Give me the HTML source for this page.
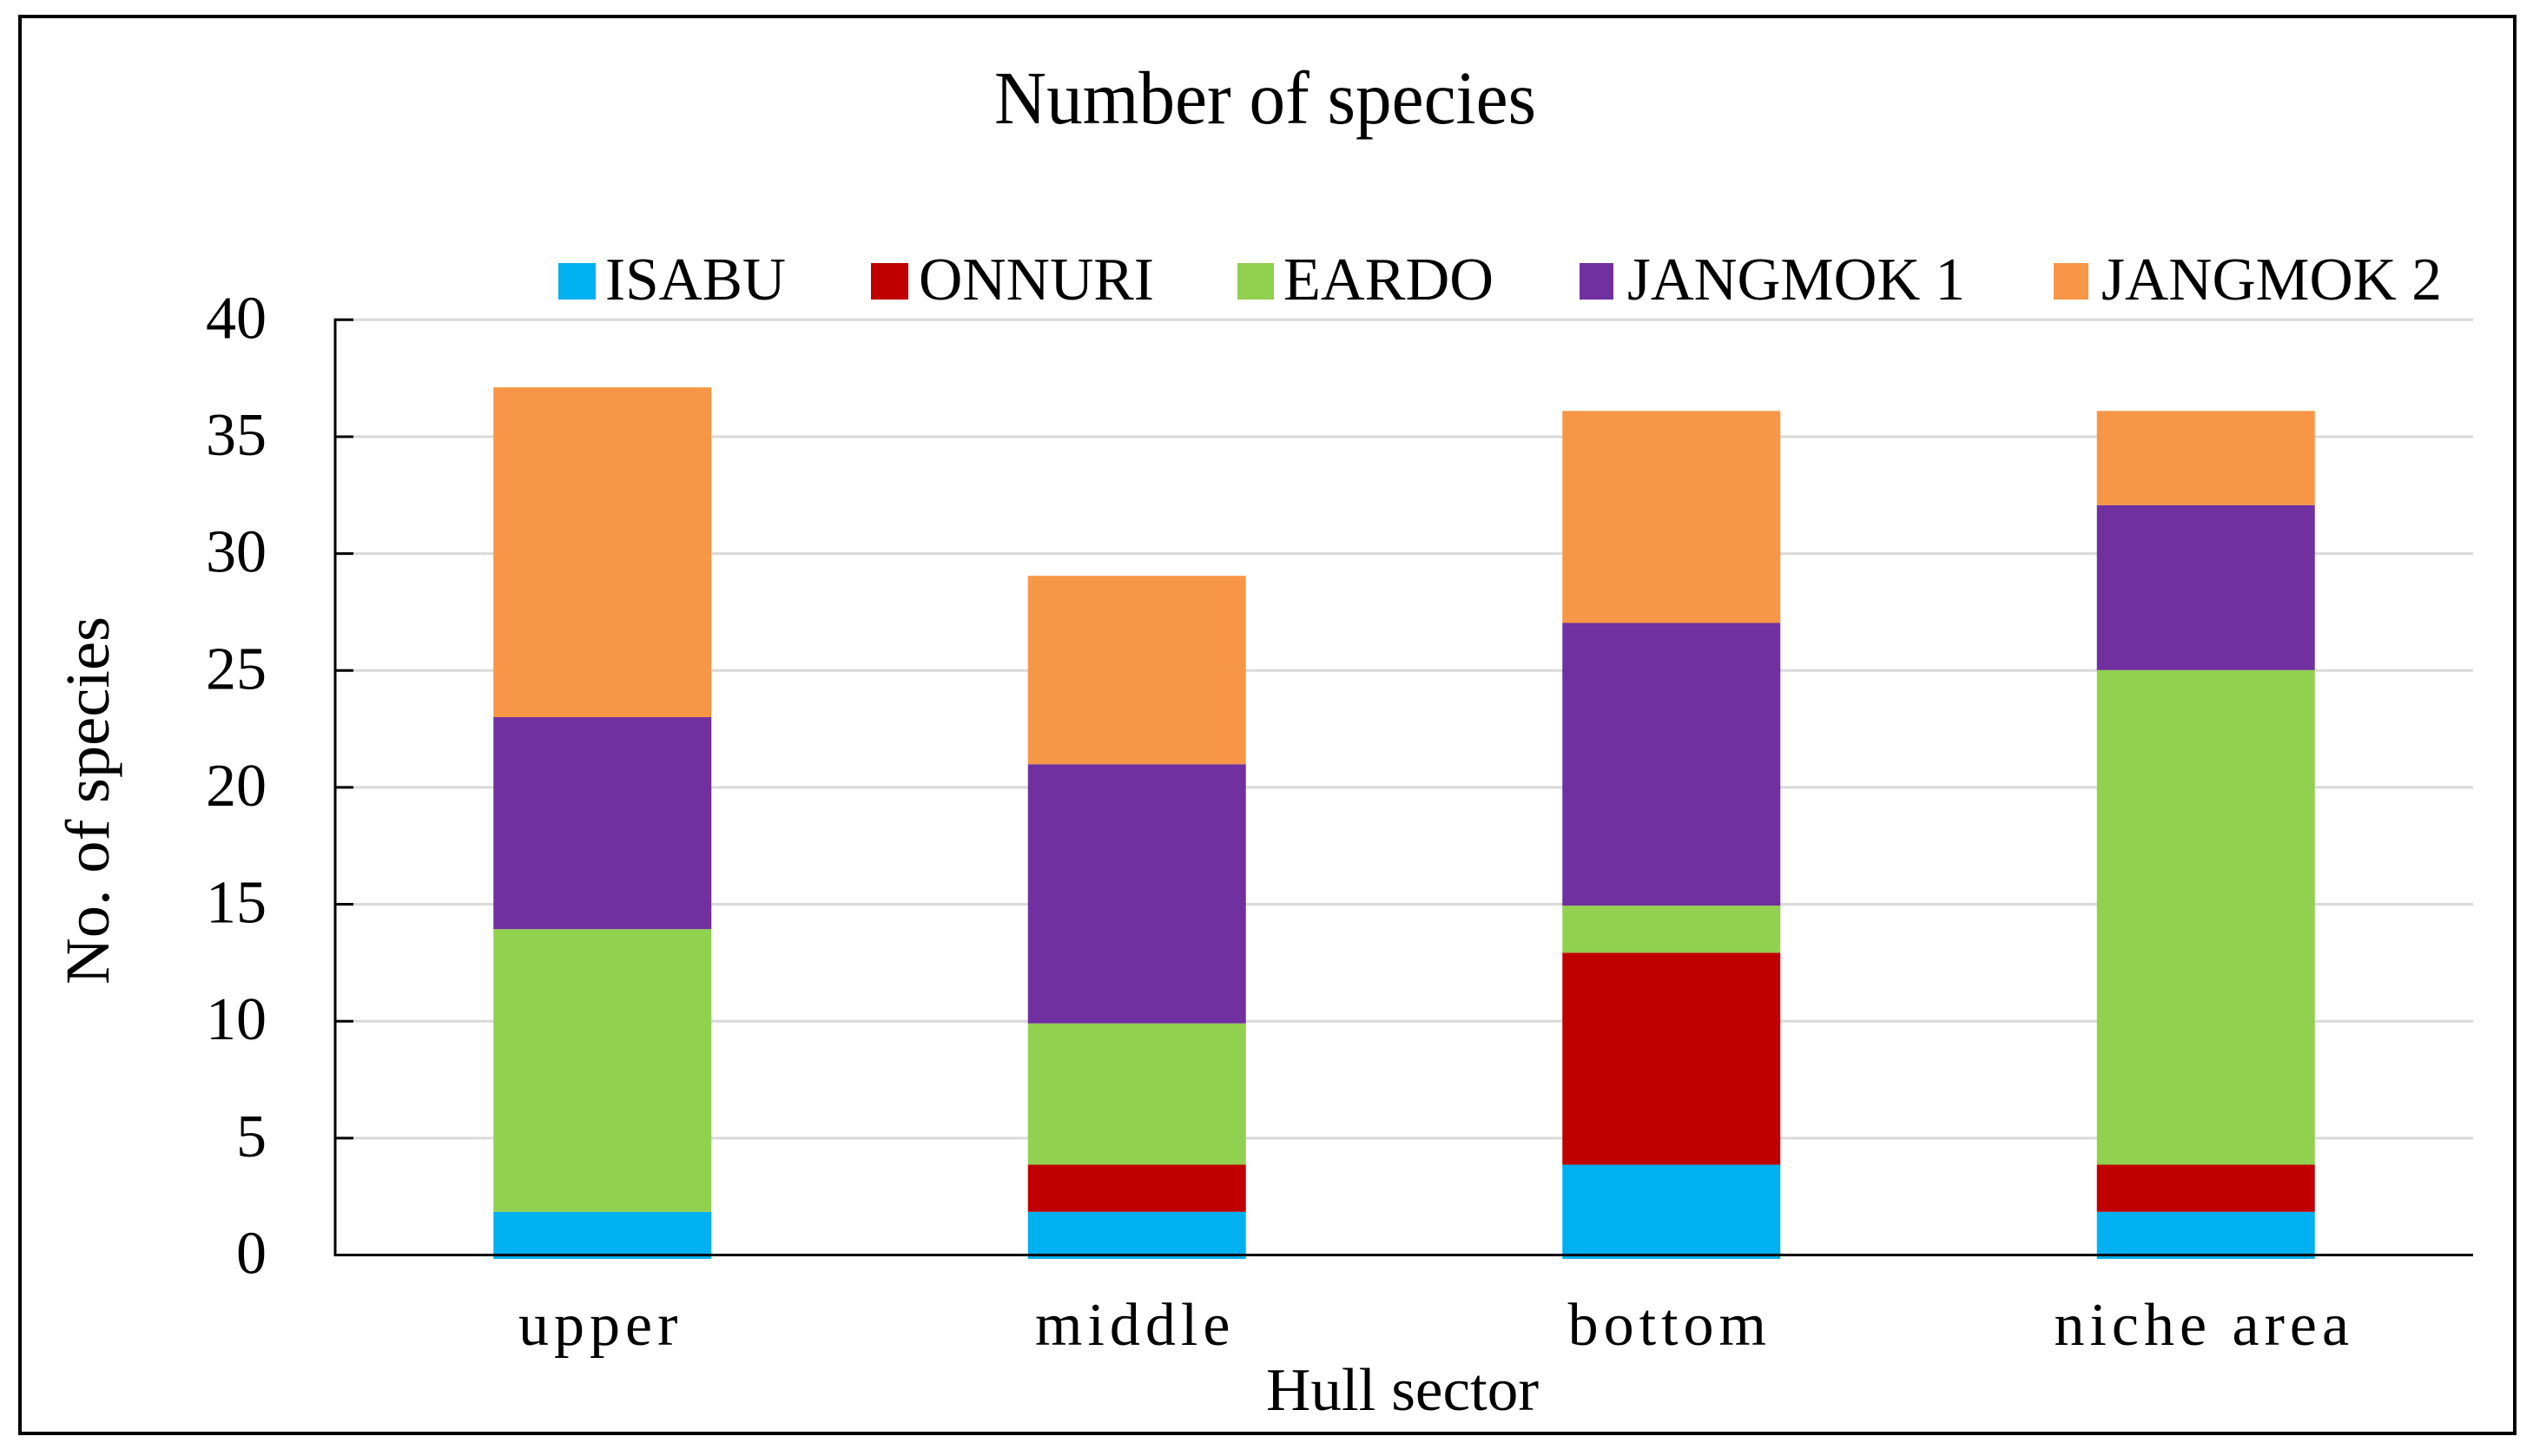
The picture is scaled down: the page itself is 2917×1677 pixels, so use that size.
<!DOCTYPE html>
<html lang="en">
<head>
<meta charset="utf-8">
<title>Number of species</title>
<style>
  html, body { margin: 0; padding: 0; background: #ffffff; }
  svg { display: block; }
  text { font-family: "Liberation Serif", serif; fill: #000000; }
</style>
</head>
<body>
<svg id="chart" xmlns="http://www.w3.org/2000/svg" width="2917" height="1677" viewBox="0 0 2917 1677">
  <rect x="0" y="0" width="2917" height="1677" fill="#ffffff"/>
  <rect x="23" y="19" width="2873" height="1632" fill="none" stroke="#000000" stroke-width="4"/>
  <text x="1145" y="142" font-size="87" textLength="624" lengthAdjust="spacingAndGlyphs">Number of species</text>

  <g>
    <g>
      <rect x="643" y="303" width="43" height="42" fill="#00B0F0"/>
      <text x="697" y="345" font-size="70" textLength="208" lengthAdjust="spacingAndGlyphs">ISABU</text>
    </g>
    <g>
      <rect x="1003" y="303" width="43" height="42" fill="#C00000"/>
      <text x="1058" y="345" font-size="70" textLength="271" lengthAdjust="spacingAndGlyphs">ONNURI</text>
    </g>
    <g>
      <rect x="1425" y="303" width="42" height="42" fill="#92D050"/>
      <text x="1478" y="345" font-size="70" textLength="242" lengthAdjust="spacingAndGlyphs">EARDO</text>
    </g>
    <g>
      <rect x="1819" y="303" width="39" height="42" fill="#7030A0"/>
      <text x="1874" y="345" font-size="70" textLength="389" lengthAdjust="spacingAndGlyphs">JANGMOK 1</text>
    </g>
    <g>
      <rect x="2365" y="303" width="40" height="42" fill="#F79646"/>
      <text x="2420" y="345" font-size="70" textLength="392" lengthAdjust="spacingAndGlyphs">JANGMOK 2</text>
    </g>
  </g>

  <g id="grid"></g>
  <g id="bars"></g>
  <g id="axes"></g>
  <g id="yLabels"></g>
  <g id="xLabels"></g>

  <text transform="translate(125,1134) rotate(-90)" x="0" y="0" font-size="72" textLength="424" lengthAdjust="spacingAndGlyphs">No. of species</text>
  <text x="1458" y="1624" font-size="70" textLength="314" lengthAdjust="spacingAndGlyphs">Hull sector</text>
</svg>

<script>
const categories = ["upper", "middle", "bottom", "niche area"];
const isabu = [2, 2, 4, 2];
const onnuri = [0, 2, 9, 2];
const eardo = [12, 6, 2, 21];
const jangmok1 = [9, 11, 12, 7];
const jangmok2 = [14, 8, 9, 4];
const seriesKeys = ["isabu", "onnuri", "eardo", "jangmok-1", "jangmok-2"];
const seriesColors = ["#00B0F0", "#C00000", "#92D050", "#7030A0", "#F79646"];
const yTicks = [0, 5, 10, 15, 20, 25, 30, 35, 40];

const NS = "http://www.w3.org/2000/svg";
const plotLeft = 386;
const plotRight = 2848;
const barWidth = 251;

function axisY(value) {
  return 1445.5 - value * 26.93;
}
function barY(value) {
  return 1450 - value * 27.13;
}
function bandCenter(index) {
  const band = (plotRight - plotLeft) / categories.length;
  return plotLeft + band * (index + 0.5);
}
function make(tag, attrs) {
  const el = document.createElementNS(NS, tag);
  for (const key in attrs) el.setAttribute(key, attrs[key]);
  return el;
}

const gridLayer = document.getElementById("grid");
const barLayer = document.getElementById("bars");
const axisLayer = document.getElementById("axes");
const yLabelLayer = document.getElementById("yLabels");
const xLabelLayer = document.getElementById("xLabels");

yTicks.forEach(function (tick) {
  const y = axisY(tick);
  if (tick > 0) {
    const line = make("line", { x1: plotLeft, x2: plotRight, y1: y, y2: y, stroke: "#D9D9D9", "stroke-width": 3 });
    
    
    gridLayer.appendChild(line);
  }
  const mark = make("line", { x1: plotLeft, x2: 407, y1: y, y2: y, stroke: "#000000", "stroke-width": 3 });
  
  
  axisLayer.appendChild(mark);
  const label = make("text", { x: 307, y: y + 21, "font-size": 70, "text-anchor": "end" });
  label.textContent = String(tick);
  
  
  yLabelLayer.appendChild(label);
});

const allSeries = [isabu, onnuri, eardo, jangmok1, jangmok2];
categories.forEach(function (category, c) {
  let running = 0;
  const slug = category.replace(/ /g, "-");
  allSeries.forEach(function (values, s) {
    const value = values[c];
    const top = barY(running + value);
    const bottom = barY(running);
    running += value;
    if (value <= 0) return;
    const rect = make("rect", {
      x: bandCenter(c) - barWidth / 2,
      y: top,
      width: barWidth,
      height: bottom - top,
      fill: seriesColors[s]
    });
    
    
    barLayer.appendChild(rect);
  });
  const label = make("text", {
    x: bandCenter(c) - 2,
    y: 1549,
    "font-size": 70,
    "text-anchor": "middle",
    "letter-spacing": 6
  });
  label.textContent = category;
  
  
  xLabelLayer.appendChild(label);
});

const yAxis = make("line", { x1: plotLeft, x2: plotLeft, y1: axisY(40) - 1.5, y2: axisY(0) + 1.5, stroke: "#000000", "stroke-width": 3 });


axisLayer.appendChild(yAxis);

const xAxis = make("line", { x1: plotLeft, x2: plotRight, y1: axisY(0), y2: axisY(0), stroke: "#000000", "stroke-width": 3 });


axisLayer.appendChild(xAxis);
</script>
</body>
</html>
